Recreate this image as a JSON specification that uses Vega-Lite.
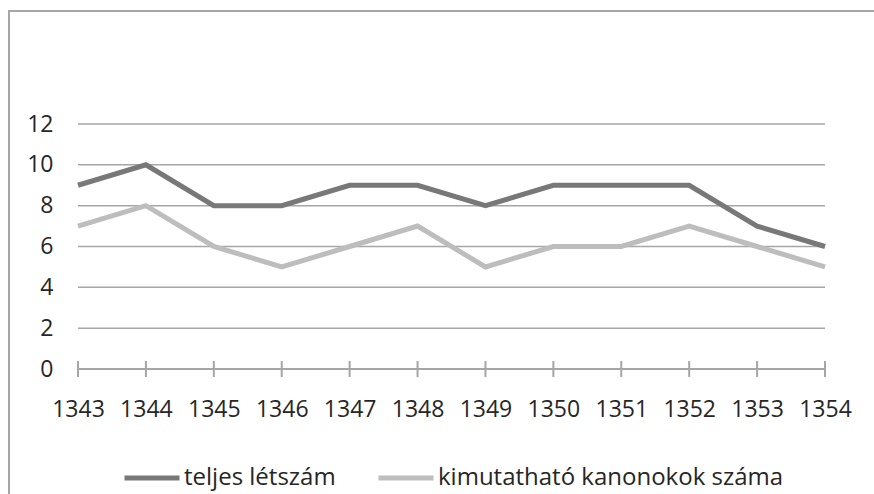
{
  "$schema": "https://vega.github.io/schema/vega-lite/v6.json",
  "width": 880,
  "height": 500,
  "autosize": "none",
  "padding": {"left": 9, "top": 11, "right": 0, "bottom": 0},
  "background": "white",
  "config": {
    "view": {"stroke": "#a6a6a6", "strokeWidth": 2},
    "font": "Open Sans"
  },
  "datasets": {
    "series": [
      {"year": 1343, "series": "teljes létszám", "value": 9},
      {"year": 1344, "series": "teljes létszám", "value": 10},
      {"year": 1345, "series": "teljes létszám", "value": 8},
      {"year": 1346, "series": "teljes létszám", "value": 8},
      {"year": 1347, "series": "teljes létszám", "value": 9},
      {"year": 1348, "series": "teljes létszám", "value": 9},
      {"year": 1349, "series": "teljes létszám", "value": 8},
      {"year": 1350, "series": "teljes létszám", "value": 9},
      {"year": 1351, "series": "teljes létszám", "value": 9},
      {"year": 1352, "series": "teljes létszám", "value": 9},
      {"year": 1353, "series": "teljes létszám", "value": 7},
      {"year": 1354, "series": "teljes létszám", "value": 6},
      {"year": 1343, "series": "kimutatható kanonokok száma", "value": 7},
      {"year": 1344, "series": "kimutatható kanonokok száma", "value": 8},
      {"year": 1345, "series": "kimutatható kanonokok száma", "value": 6},
      {"year": 1346, "series": "kimutatható kanonokok száma", "value": 5},
      {"year": 1347, "series": "kimutatható kanonokok száma", "value": 6},
      {"year": 1348, "series": "kimutatható kanonokok száma", "value": 7},
      {"year": 1349, "series": "kimutatható kanonokok száma", "value": 5},
      {"year": 1350, "series": "kimutatható kanonokok száma", "value": 6},
      {"year": 1351, "series": "kimutatható kanonokok száma", "value": 6},
      {"year": 1352, "series": "kimutatható kanonokok száma", "value": 7},
      {"year": 1353, "series": "kimutatható kanonokok száma", "value": 6},
      {"year": 1354, "series": "kimutatható kanonokok száma", "value": 5}
    ],
    "grid": [
      {"v": 2, "x1": 1343, "x2": 1354},
      {"v": 4, "x1": 1343, "x2": 1354},
      {"v": 6, "x1": 1343, "x2": 1354},
      {"v": 8, "x1": 1343, "x2": 1354},
      {"v": 10, "x1": 1343, "x2": 1354},
      {"v": 12, "x1": 1343, "x2": 1354}
    ],
    "base": [
      {"v": 0, "x1": 1343, "x2": 1354}
    ],
    "ticks": [
      {"year": 1343, "v": 0}, {"year": 1344, "v": 0}, {"year": 1345, "v": 0},
      {"year": 1346, "v": 0}, {"year": 1347, "v": 0}, {"year": 1348, "v": 0},
      {"year": 1349, "v": 0}, {"year": 1350, "v": 0}, {"year": 1351, "v": 0},
      {"year": 1352, "v": 0}, {"year": 1353, "v": 0}, {"year": 1354, "v": 0}
    ]
  },
  "layer": [
    {
      "data": {"name": "grid"},
      "mark": {"type": "rule", "color": "#a6a6a6", "strokeWidth": 1.5},
      "encoding": {
        "y": {"field": "v", "type": "quantitative", "scale": {"domain": [0, 12], "range": [358, 113]},
          "axis": {"orient": "left", "offset": -58, "values": [0, 2, 4, 6, 8, 10, 12], "domain": false, "ticks": false, "grid": false, "labelPadding": 14, "labelFontSize": 23, "labelColor": "#262626", "title": null}},
        "x": {"field": "x1", "type": "quantitative", "scale": {"domain": [1343, 1354], "range": [69, 816]},
          "axis": {"orient": "bottom", "offset": -142, "values": [1343,1344,1345,1346,1347,1348,1349,1350,1351,1352,1353,1354], "format": "d", "domain": false, "ticks": false, "grid": false, "labelFlush": false, "labelOverlap": false, "labelPadding": 29, "labelFontSize": 23, "labelColor": "#262626", "title": null}},
        "x2": {"field": "x2"}
      }
    },
    {
      "data": {"name": "base"},
      "mark": {"type": "rule", "color": "#a6a6a6", "strokeWidth": 2},
      "encoding": {
        "y": {"field": "v", "type": "quantitative"},
        "x": {"field": "x1", "type": "quantitative"},
        "x2": {"field": "x2"}
      }
    },
    {
      "data": {"name": "ticks"},
      "mark": {"type": "tick", "orient": "vertical", "color": "#a6a6a6", "thickness": 2, "size": 16, "opacity": 1},
      "encoding": {
        "x": {"field": "year", "type": "quantitative"},
        "y": {"field": "v", "type": "quantitative"}
      }
    },
    {
      "data": {"name": "series"},
      "mark": {"type": "line", "strokeWidth": 5, "strokeJoin": "miter"},
      "encoding": {
        "x": {"field": "year", "type": "quantitative"},
        "y": {"field": "value", "type": "quantitative"},
        "color": {
          "field": "series", "type": "nominal",
          "scale": {"domain": ["teljes létszám", "kimutatható kanonokok száma"], "range": ["#787878", "#bdbdbd"]},
          "legend": {
            "orient": "none", "legendX": 113, "legendY": 437, "direction": "horizontal", "title": null,
            "symbolType": "stroke", "symbolSize": 3025, "symbolStrokeWidth": 5,
            "labelFontSize": 24, "labelColor": "#262626", "labelOffset": 2, "columnPadding": 32, "labelLimit": 400
          }
        }
      }
    }
  ]
}
